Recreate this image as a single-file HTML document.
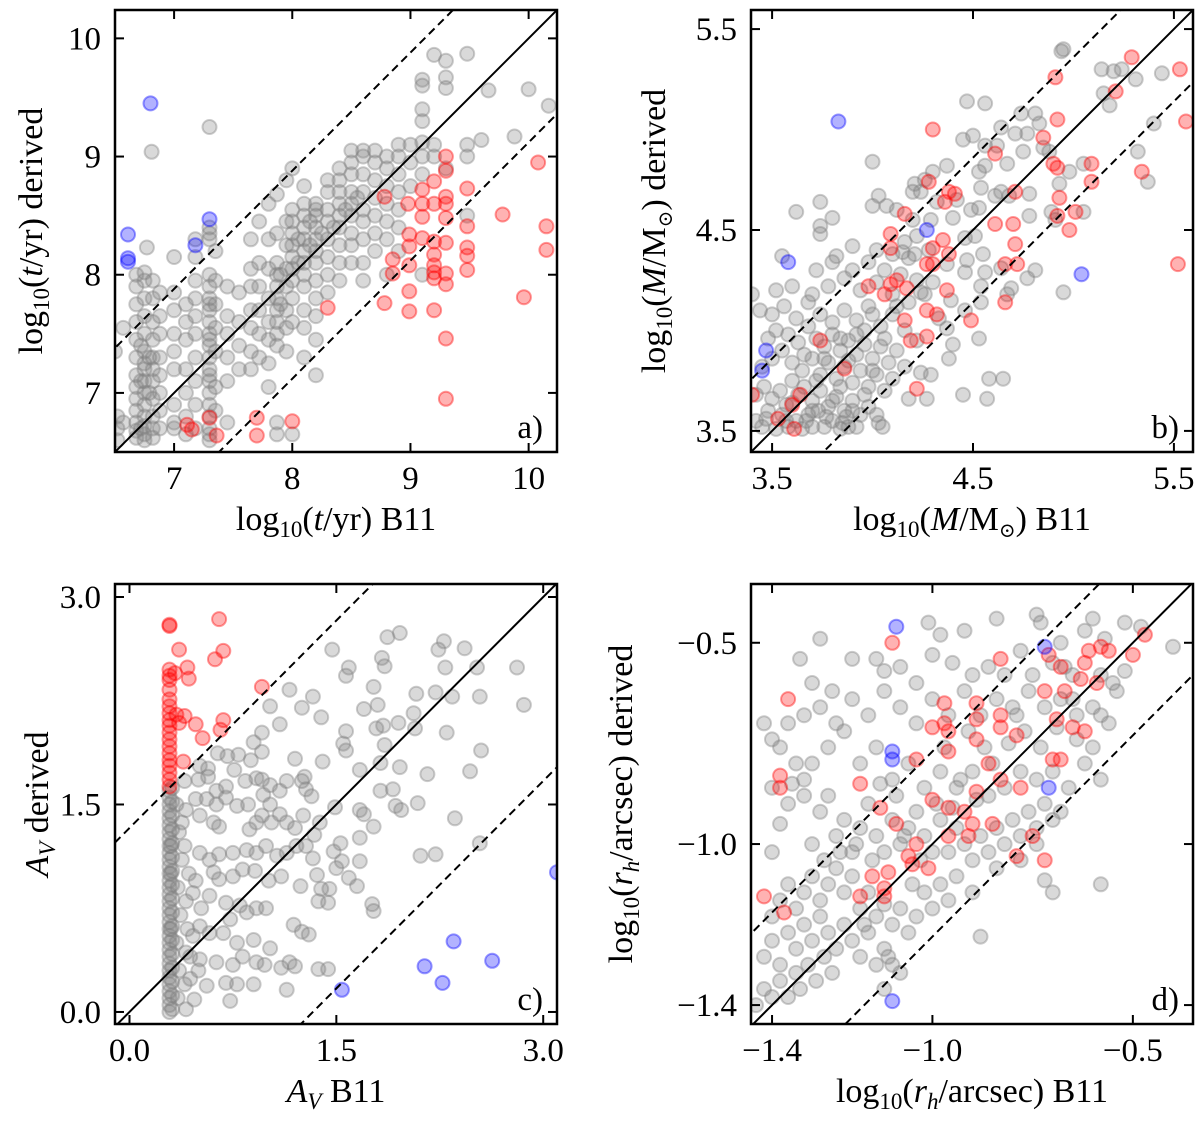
<!DOCTYPE html>
<html><head><meta charset="utf-8">
<style>
html,body{margin:0;padding:0;background:#fff;width:1200px;height:1126px;overflow:hidden;}
svg{display:block;}
text{font-family:"Liberation Serif","DejaVu Serif",serif;fill:#000;}
</style></head>
<body>
<svg id="fig" width="1200" height="1126" viewBox="0 0 1200 1126" xmlns="http://www.w3.org/2000/svg"></svg>
<script>
// ---------- Panel a: age ----------
const ticksA = [7, 8, 9, 10];
const grayA = [[6.52,6.7],[6.52,6.8],[6.52,6.6],[6.5,7.35],[6.57,6.75],[6.57,7.55],
[6.68,6.62],[6.68,6.68],[6.68,6.75],[6.68,6.85],[6.68,6.95],[6.68,7.05],[6.68,7.15],[6.68,7.3],[6.68,7.45],[6.68,7.6],[6.68,7.75],[6.68,7.9],[6.68,8.0],
[6.75,6.6],[6.75,6.65],[6.75,6.72],[6.75,6.8],[6.75,6.9],[6.75,7.0],[6.75,7.1],[6.75,7.2],[6.75,7.25],[6.75,7.35],[6.75,7.5],[6.75,7.65],[6.75,7.8],[6.75,7.95],[6.75,8.02],
[6.82,6.62],[6.82,6.7],[6.82,6.8],[6.82,6.95],[6.82,7.1],[6.82,7.2],[6.82,7.3],[6.82,7.45],[6.82,7.6],[6.82,7.8],[6.82,7.95],
[6.88,6.7],[6.88,6.85],[6.88,7.0],[6.88,7.15],[6.88,7.3],[6.88,7.5],[6.88,7.65],[6.88,7.85],
[6.77,8.23],[6.81,9.04],
[7.0,6.7],[7.0,6.75],[7.0,6.9],[7.0,7.2],[7.0,7.35],[7.0,7.5],[7.0,7.7],[7.0,7.85],[7.0,8.15],
[7.1,6.65],[7.1,6.8],[7.1,7.0],[7.1,7.2],[7.1,7.45],[7.1,7.6],[7.1,7.75],
[7.18,6.7],[7.18,6.9],[7.18,7.1],[7.18,7.3],[7.18,7.5],[7.18,7.65],[7.18,7.8],[7.18,7.95],[7.18,8.15],[7.18,8.3],
[7.3,6.6],[7.3,6.65],[7.3,6.7],[7.3,6.8],[7.3,6.9],[7.3,7.0],[7.3,7.1],[7.3,7.2],[7.3,7.3],[7.3,7.4],[7.3,7.5],[7.3,7.6],[7.3,7.7],[7.3,7.8],[7.3,7.9],[7.3,8.0],[7.3,8.3],[7.3,8.35],[7.3,8.4],[7.3,9.25],
[7.35,6.85],[7.35,7.05],[7.35,7.35],[7.35,7.55],[7.35,7.75],[7.35,7.95],[7.35,8.2],
[7.45,6.75],[7.45,7.1],[7.45,7.3],[7.45,7.5],[7.45,7.65],[7.45,7.9],
[7.55,7.2],[7.55,7.4],[7.55,7.6],[7.55,7.85],
[7.65,7.2],[7.65,7.35],[7.65,7.55],[7.65,7.7],[7.65,7.9],[7.65,8.05],[7.65,8.3],
[7.72,7.3],[7.72,7.5],[7.72,7.7],[7.72,7.9],[7.72,8.1],[7.72,8.45],
[7.8,7.05],[7.8,7.25],[7.8,7.45],[7.8,7.6],[7.8,7.8],[7.8,8.05],[7.8,8.3],[7.8,8.6],
[7.87,6.75],[7.87,6.65],[7.87,7.4],[7.87,7.5],[7.87,7.6],[7.87,7.7],[7.87,7.8],[7.87,7.9],[7.87,8.0],[7.87,8.1],[7.87,8.35],[7.87,8.68],
[7.95,7.35],[7.95,7.55],[7.95,7.7],[7.95,7.9],[7.95,8.05],[7.95,8.25],[7.95,8.45],[7.95,8.8],
[8.0,6.65],[8.0,7.6],[8.0,7.8],[8.0,7.95],[8.0,8.05],[8.0,8.15],[8.0,8.25],[8.0,8.35],[8.0,8.45],[8.0,8.55],[8.0,8.9],
[8.1,7.3],[8.1,7.55],[8.1,7.7],[8.1,7.9],[8.1,8.0],[8.1,8.1],[8.1,8.2],[8.1,8.3],[8.1,8.4],[8.1,8.5],[8.1,8.6],[8.1,8.75],
[8.2,7.15],[8.2,7.45],[8.2,7.65],[8.2,7.8],[8.2,7.95],[8.2,8.1],[8.2,8.2],[8.2,8.3],[8.2,8.4],[8.2,8.5],[8.2,8.55],[8.2,8.6],
[8.3,7.85],[8.3,8.0],[8.3,8.15],[8.3,8.3],[8.3,8.45],[8.3,8.55],[8.3,8.7],[8.3,8.8],
[8.4,7.95],[8.4,8.1],[8.4,8.25],[8.4,8.4],[8.4,8.5],[8.4,8.6],[8.4,8.7],[8.4,8.8],[8.4,8.9],
[8.5,8.1],[8.5,8.25],[8.5,8.35],[8.5,8.5],[8.5,8.6],[8.5,8.7],[8.5,8.85],[8.5,8.95],[8.5,9.05],
[8.6,7.95],[8.6,8.1],[8.6,8.3],[8.6,8.45],[8.6,8.55],[8.6,8.7],[8.6,8.85],[8.6,9.0],[8.6,9.05],
[8.7,8.2],[8.7,8.35],[8.7,8.5],[8.7,8.65],[8.7,8.8],[8.7,8.95],[8.7,9.05],
[8.8,8.0],[8.8,8.3],[8.8,8.45],[8.8,8.6],[8.8,8.75],[8.8,8.9],[8.8,9.0],
[8.9,8.2],[8.9,8.4],[8.9,8.55],[8.9,8.7],[8.9,8.85],[8.9,9.0],[8.9,9.1],
[9.0,8.75],[9.0,8.95],[9.0,9.1],
[9.1,8.85],[9.1,9.0],[9.1,9.12],[9.1,9.3],[9.1,9.4],[9.1,9.6],[9.1,9.65],[9.1,8.0],
[9.2,9.0],[9.2,9.1],[9.2,9.86],[9.3,9.81],[9.3,9.67],[9.3,9.58],[9.3,8.9],
[9.48,9.87],[9.48,9.1],[9.48,9.0],[9.48,8.5],[9.66,9.56],[9.6,9.14],[9.88,9.17],[10.0,9.57],[10.17,9.43],
[6.72,7.1],[6.72,7.4],[6.72,6.7],[6.79,7.0],[6.79,7.3],[7.3,7.15],[7.3,7.45],[7.3,7.75],[8.05,8.1],[8.05,8.3],[8.15,8.25],[8.15,8.45],[8.25,8.35],[8.35,8.4],[8.45,8.55],[8.55,8.65],[7.9,7.75],[7.9,8.0]];
const redA = [[9.30,9.00],[10.08,8.95],[9.30,8.88],[9.20,8.79],[8.78,8.66],[9.10,8.72],[9.10,8.60],[9.20,8.60],[9.30,8.66],[9.30,8.60],[9.48,8.73],[8.98,8.60],[9.10,8.49],[9.78,8.51],[9.30,8.48],[9.48,8.41],[10.15,8.41],[8.99,8.34],[9.10,8.31],[9.20,8.28],[9.30,8.27],[9.48,8.23],[9.48,8.16],[10.15,8.21],[8.99,8.24],[9.20,8.17],[9.20,8.08],[9.20,8.02],[9.20,7.97],[8.85,8.13],[8.99,8.08],[8.85,8.01],[9.30,8.01],[9.30,7.92],[9.48,8.04],[9.96,7.81],[8.78,7.76],[8.99,7.86],[8.99,7.69],[9.20,7.70],[8.30,7.72],[9.30,7.46],[9.30,6.95],[7.11,6.73],[7.15,6.69],[7.30,6.79],[7.36,6.64],[7.70,6.79],[7.70,6.64],[8.00,6.76]];
const blueA = [[6.80,9.45],[7.30,8.47],[6.61,8.34],[6.61,8.14],[6.61,8.11],[7.18,8.25]];

// ---------- Panel b: mass ----------
const ticksB = [3.5, 4.5, 5.5];
const grayB = [[4.94,5.39],[4.95,5.40],[5.14,5.30],[5.20,5.29],[5.24,5.30],[5.31,5.25],[5.44,5.28],[5.15,5.18],[5.18,5.12],[5.40,5.03],[5.32,4.89],[5.37,4.74],[4.47,5.14],[4.56,5.13],[4.74,5.08],[4.81,5.08],[4.83,5.03],[4.71,4.98],[4.77,4.98],[4.64,5.01],[4.45,4.95],[4.50,4.97],[4.56,4.92],[4.62,4.92],[4.75,4.89],[4.85,4.91],[4.88,4.89],[4.98,4.79],[5.05,4.83],[4.93,4.73],[4.0,4.84],[4.37,4.82],[4.30,4.79],[4.53,4.79],[4.56,4.82],[4.67,4.83],[4.26,4.75],[4.21,4.73],[4.54,4.71],[4.61,4.67],[4.64,4.69],[4.68,4.67],[4.78,4.68],[4.89,4.59],[4.91,4.55],[5.05,4.59],[4.78,4.57],[4.03,4.67],[4.07,4.62],[4.0,4.62],[3.74,4.64],[3.62,4.59],[3.80,4.56],[3.74,4.52],[3.74,4.48],[3.90,4.42],[3.82,4.37],[3.55,4.37],[4.12,4.60],[4.20,4.69],[4.24,4.69],[4.32,4.64],[4.42,4.65],[4.49,4.60],[4.53,4.61],[4.40,4.56],[4.29,4.55],[4.20,4.55],[4.22,4.47],[4.16,4.44],[4.15,4.39],[4.21,4.38],[4.28,4.40],[4.46,4.46],[4.51,4.47],[4.47,4.35],[4.55,4.38],[4.37,4.33],[4.46,4.29],[4.56,4.29],[4.54,4.22],[4.64,4.31],[4.77,4.26],[4.81,4.30],[4.69,4.21],[4.67,4.18],[4.95,4.19],[4.30,4.24],[4.24,4.19],[4.39,4.15],[4.46,4.10],[4.54,4.14],[4.37,4.01],[4.33,4.06],[4.40,3.93],[4.38,3.86],[4.53,3.96],[4.58,3.76],[4.65,3.76],[4.45,3.68],[4.57,3.66],[4.27,3.66],[4.29,3.78],[4.24,3.79],[4.18,3.66],[4.05,3.52],[4.03,3.54],[3.85,3.54],[3.88,3.52],
[3.42,3.55],[3.45,3.52],[3.48,3.60],[3.52,3.51],[3.55,3.58],[3.58,3.52],[3.62,3.55],[3.65,3.51],[3.68,3.58],[3.70,3.52],[3.73,3.60],[3.76,3.52],[3.80,3.55],[3.84,3.51],[3.92,3.52],[3.42,3.68],[3.46,3.72],[3.50,3.66],[3.54,3.70],[3.57,3.63],[3.60,3.75],[3.63,3.68],[3.66,3.72],[3.70,3.65],[3.74,3.70],[3.78,3.62],[3.82,3.67],[3.86,3.60],[3.90,3.65],[3.94,3.58],[3.98,3.62],[4.02,3.58],[3.45,3.82],[3.50,3.86],[3.55,3.90],[3.60,3.84],[3.65,3.80],[3.70,3.86],[3.74,3.78],[3.78,3.84],[3.82,3.76],[3.86,3.82],[3.90,3.74],[3.94,3.80],[3.98,3.72],[4.02,3.78],[4.06,3.70],[4.10,3.76],[3.48,3.96],[3.52,4.00],[3.58,3.98],[3.63,3.94],[3.68,4.02],[3.72,3.96],[3.76,3.92],[3.80,3.98],[3.84,3.90],[3.88,3.95],[3.92,3.88],[3.96,3.93],[4.00,3.86],[4.04,3.92],[4.08,3.84],[4.12,3.90],[4.16,3.82],[3.44,4.10],[3.50,4.08],[3.56,4.12],[3.62,4.06],[3.68,4.14],[3.74,4.08],[3.80,4.04],[3.86,4.10],[3.92,4.05],[3.98,4.12],[4.04,4.02],[4.10,4.08],[4.16,4.00],[4.22,3.95],[3.40,4.18],[3.52,4.20],[3.60,4.22],[3.70,4.18],[3.78,4.22],[3.86,4.26],[3.94,4.20],[4.02,4.24],[4.10,4.18],[4.18,4.14],[3.90,4.30],[3.98,4.34],[4.06,4.30],[4.14,4.28],[4.22,4.25],[4.26,4.18],[3.72,4.30],[3.80,4.34],[4.02,4.40],[4.10,4.38],[4.18,4.36],
[3.47,3.56],[3.57,3.55],[3.67,3.55],[3.77,3.57],[3.87,3.57],[3.60,3.64],[3.70,3.60],[3.80,3.65],[3.90,3.60],[3.72,3.75],[3.84,3.72],[3.96,3.68],[3.88,3.85],[4.00,3.80],[3.96,4.00],[4.06,3.96],[4.00,4.08],[4.12,4.12],[3.92,3.98],[3.84,3.96],[3.66,3.88],[3.76,3.86]];
const redB = [[5.29,5.36],[5.53,5.30],[4.91,5.26],[5.21,5.19],[4.92,5.05],[5.56,5.04],[4.30,5.0],[4.85,4.96],[4.61,4.88],[4.90,4.83],[4.92,4.81],[5.09,4.83],[5.34,4.79],[5.09,4.74],[4.28,4.74],[4.38,4.69],[4.41,4.68],[4.36,4.64],[4.71,4.69],[4.93,4.66],[5.01,4.59],[4.16,4.58],[4.92,4.57],[4.61,4.53],[4.70,4.53],[4.98,4.50],[4.09,4.48],[4.35,4.45],[4.30,4.41],[4.09,4.41],[4.71,4.43],[4.38,4.38],[5.52,4.33],[4.27,4.33],[4.30,4.33],[4.66,4.33],[4.72,4.33],[4.12,4.25],[4.09,4.23],[3.98,4.22],[4.06,4.18],[4.17,4.21],[4.37,4.20],[4.66,4.14],[4.27,4.10],[4.32,4.08],[4.16,4.05],[4.49,4.05],[4.19,3.95],[4.27,3.97],[3.74,3.95],[3.86,3.81],[4.22,3.71],[3.40,3.68],[3.64,3.68],[3.60,3.63],[3.53,3.56],[3.61,3.51]];
const blueB = [[3.83,5.04],[4.27,4.50],[3.58,4.34],[5.04,4.28],[3.47,3.90],[3.45,3.80]];

// ---------- Panel c: extinction ----------
const ticksC = [0.0, 1.5, 3.0];
const grayC = [[0.29,0.0],[0.29,0.05],[0.29,0.1],[0.29,0.15],[0.29,0.2],[0.29,0.25],[0.29,0.3],[0.29,0.35],[0.29,0.4],[0.29,0.45],[0.29,0.5],[0.29,0.55],[0.29,0.6],[0.29,0.65],[0.29,0.7],[0.29,0.75],[0.29,0.8],[0.29,0.85],[0.29,0.9],[0.29,0.95],[0.29,1.0],[0.29,1.05],[0.29,1.1],[0.29,1.15],[0.29,1.2],[0.29,1.25],[0.29,1.3],[0.29,1.35],[0.29,1.4],[0.29,1.45],[0.29,1.5],[0.29,1.55],[0.29,1.6],
[0.31,0.02],[0.31,0.12],[0.31,0.22],[0.31,0.32],[0.31,0.42],[0.31,0.52],[0.31,0.62],[0.31,0.72],[0.31,0.82],[0.31,0.92],[0.31,1.02],[0.31,1.12],[0.31,1.22],[0.31,1.32],[0.31,1.42],[0.31,1.52],[0.31,1.62],[0.30,1.2],[0.30,0.6],[0.30,1.0],
[0.35,0.1],[0.36,0.3],[0.34,0.5],[0.37,0.7],[0.35,0.9],[0.38,1.1],[0.36,1.3],[0.34,1.5],[0.40,0.2],[0.42,0.6],[0.41,0.8],[0.43,1.0],[0.40,1.2],[0.44,0.4],[0.46,0.55],[0.48,0.95],[0.5,0.3],[0.52,0.75],
[1.47,2.62],[1.87,2.71],[1.96,2.74],[2.28,2.68],[2.24,2.62],[2.43,2.63],[1.83,2.56],[1.85,2.50],[1.59,2.49],[1.57,2.43],[2.29,2.49],[2.52,2.49],[2.81,2.49],[1.77,2.35],[1.16,2.33],[1.33,2.28],[2.08,2.30],[2.22,2.31],[2.34,2.28],[2.54,2.28],[2.86,2.22],[1.02,2.21],[1.25,2.20],[1.70,2.19],[1.80,2.22],[1.39,2.13],[2.06,2.16],[1.09,2.08],[1.95,2.09],[1.79,2.05],[1.84,2.07],[1.57,2.03],[2.07,2.05],[2.30,2.02],[0.96,2.02],[0.90,1.95],[1.55,1.94],[1.57,1.89],[1.85,1.93],[2.55,1.89],[0.64,1.87],[0.71,1.85],[0.79,1.86],[0.88,1.82],[0.96,1.88],[1.20,1.83],[1.40,1.81],[1.82,1.80],[1.96,1.77],[1.67,1.75],[2.16,1.72],[2.47,1.74],[0.76,1.75],[0.51,1.78],[0.57,1.76],[0.50,1.68],[0.57,1.70],[0.40,1.67],[0.70,1.63],[0.63,1.60],[0.84,1.67],[0.92,1.69],[0.96,1.68],[1.02,1.64],[1.14,1.67],[1.09,1.60],[1.27,1.70],[1.25,1.67],[1.28,1.61],[1.32,1.56],[1.82,1.60],[1.91,1.61],[1.93,1.49],[1.97,1.46],[2.09,1.51],[0.48,1.54],[0.56,1.54],[0.63,1.50],[0.70,1.55],[0.78,1.49],[0.86,1.50],[0.97,1.57],[1.02,1.50],[0.41,1.46],[0.38,1.37],[0.51,1.42],[0.61,1.37],[0.65,1.34],[0.87,1.32],[0.92,1.37],[0.96,1.42],[1.03,1.37],[1.09,1.43],[1.14,1.37],[1.20,1.33],[1.26,1.42],[1.34,1.28],[1.38,1.37],[1.49,1.48],[1.67,1.46],[1.70,1.43],[1.77,1.34],[1.67,1.26],[2.36,1.40],[2.54,1.22],[2.11,1.13],[2.22,1.14],[1.28,1.20],[1.33,1.11],[1.48,1.16],[1.53,1.22],[1.54,1.09],[1.67,1.09],[0.51,1.15],[0.58,1.10],[0.65,1.14],[0.75,1.15],[0.85,1.17],[0.92,1.15],[0.99,1.20],[1.07,1.13],[1.14,1.15],[1.21,1.20],[0.61,1.01],[0.65,0.96],[0.75,0.98],[0.82,1.03],[0.91,1.02],[1.01,0.95],[1.10,0.98],[1.24,0.91],[1.36,0.99],[1.39,0.89],[1.45,0.89],[1.50,1.04],[1.59,0.97],[1.65,0.91],[1.37,0.80],[1.44,0.79],[1.76,0.78],[1.77,0.73],[0.46,0.86],[0.58,0.84],[0.70,0.79],[0.80,0.77],[0.92,0.75],[0.99,0.75],[0.85,0.72],[0.73,0.67],[1.19,0.63],[1.25,0.58],[1.30,0.56],[0.51,0.62],[0.58,0.57],[0.68,0.57],[0.78,0.50],[0.90,0.52],[1.02,0.46],[0.41,0.43],[0.51,0.38],[0.63,0.36],[0.75,0.34],[0.82,0.40],[0.92,0.36],[0.98,0.34],[1.10,0.32],[1.16,0.36],[1.20,0.33],[1.37,0.31],[1.44,0.31],[0.44,0.24],[0.56,0.19],[0.70,0.21],[0.78,0.20],[0.90,0.20],[1.14,0.16],[0.73,0.08],[0.47,0.09],[0.41,0.02]];
const redC = [[0.29,2.80],[0.29,2.79],[0.29,2.475],[0.29,2.43],[0.29,2.40],[0.29,2.33],[0.29,2.26],[0.29,2.21],[0.29,2.16],[0.29,2.11],[0.29,2.07],[0.29,2.02],[0.29,1.97],[0.29,1.92],[0.29,1.87],[0.29,1.82],[0.29,1.78],[0.29,1.73],[0.29,1.68],[0.29,1.63],[0.65,2.84],[0.36,2.62],[0.68,2.61],[0.62,2.55],[0.42,2.49],[0.43,2.41],[0.33,2.45],[0.36,2.09],[0.48,2.08],[0.68,2.11],[0.66,2.04],[0.53,1.98],[0.96,2.35],[0.39,1.81],[0.34,2.15],[0.40,2.14]];
const blueC = [[1.54,0.16],[2.14,0.33],[2.27,0.21],[2.35,0.51],[2.63,0.37],[3.10,1.01]];

// ---------- Panel d: radius ----------
const ticksD = [-1.4, -1.0, -0.5];
const grayD = [[-1.44,-1.40],[-1.42,-1.36],[-1.40,-1.38],[-1.38,-1.34],[-1.36,-1.38],[-1.34,-1.32],[-1.33,-1.36],[-1.31,-1.30],[-1.29,-1.34],[-1.27,-1.28],[-1.25,-1.32],[-1.42,-1.28],[-1.40,-1.24],[-1.38,-1.30],[-1.36,-1.22],[-1.34,-1.26],[-1.32,-1.20],[-1.30,-1.24],[-1.28,-1.18],[-1.26,-1.22],[-1.24,-1.26],[-1.22,-1.20],[-1.20,-1.24],[-1.18,-1.28],[-1.16,-1.22],[-1.14,-1.30],[-1.12,-1.26],[-1.11,-1.28],[-1.10,-1.30],[-1.08,-1.32],[-1.12,-1.36],[-1.40,-1.18],[-1.38,-1.14],[-1.36,-1.10],[-1.34,-1.16],[-1.32,-1.12],[-1.30,-1.08],[-1.28,-1.14],[-1.26,-1.10],[-1.24,-1.06],[-1.22,-1.12],[-1.20,-1.08],[-1.18,-1.16],[-1.16,-1.12],[-1.14,-1.18],[-1.12,-1.15],[-1.10,-1.20],[-1.08,-1.16],[-1.06,-1.22],[-1.04,-1.18],[-1.02,-1.12],[-1.00,-1.16],[-0.98,-1.10],[-0.96,-1.14],[-0.94,-1.08],[-0.90,-1.12],[-0.84,-1.06],[-0.78,-1.04],[-0.74,-1.00],[-0.72,-1.09],[-0.70,-1.12],[-0.58,-1.10],[-0.88,-1.23],
[-1.40,-1.02],[-1.38,-0.95],[-1.36,-0.90],[-1.34,-0.80],[-1.32,-0.84],[-1.30,-1.00],[-1.28,-0.92],[-1.26,-0.88],[-1.24,-0.98],[-1.22,-0.94],[-1.20,-1.02],[-1.18,-0.96],[-1.16,-0.90],[-1.14,-0.98],[-1.12,-1.02],[-1.10,-0.94],[-1.08,-1.00],[-1.06,-0.96],[-1.04,-0.92],[-1.02,-0.98],[-1.00,-1.02],[-0.98,-0.94],[-0.96,-1.02],[-0.94,-0.96],[-0.92,-1.00],[-0.90,-1.04],[-0.88,-0.98],[-0.86,-1.02],[-0.84,-0.96],[-0.82,-1.00],[-0.80,-0.94],[-0.78,-0.98],[-0.76,-0.92],[-0.74,-0.96],[-0.72,-0.90],[-0.70,-0.94],[-0.68,-0.92],
[-1.30,-0.80],[-1.26,-0.76],[-1.22,-0.72],[-1.18,-0.80],[-1.14,-0.76],[-1.10,-0.84],[-1.06,-0.80],[-1.02,-0.86],[-0.98,-0.82],[-0.94,-0.86],[-0.90,-0.82],[-0.86,-0.88],[-0.82,-0.86],[-0.78,-0.82],[-0.74,-0.84],[-0.70,-0.82],[-0.66,-0.86],[-0.62,-0.80],[-0.58,-0.84],[-0.60,-0.76],[-0.64,-0.74],
[-1.36,-0.70],[-1.32,-0.68],[-1.28,-0.66],[-1.24,-0.70],[-1.20,-0.64],[-1.16,-0.68],[-1.12,-0.62],[-1.08,-0.66],[-1.04,-0.70],[-1.00,-0.64],[-0.96,-0.68],[-0.92,-0.62],[-0.88,-0.68],[-0.84,-0.64],[-0.80,-0.66],[-0.76,-0.62],[-0.72,-0.66],[-0.68,-0.64],[-0.64,-0.68],[-0.60,-0.66],[-0.56,-0.70],[-0.54,-0.62],[-0.58,-0.58],
[-1.28,-0.49],[-1.20,-0.54],[-1.14,-0.54],[-1.12,-0.57],[-1.08,-0.56],[-1.04,-0.60],[-1.01,-0.45],[-1.00,-0.53],[-0.98,-0.48],[-0.95,-0.55],[-0.92,-0.47],[-0.90,-0.58],[-0.86,-0.56],[-0.84,-0.44],[-0.82,-0.58],[-0.78,-0.52],[-0.74,-0.43],[-0.73,-0.45],[-0.70,-0.55],[-0.68,-0.50],[-0.65,-0.58],[-0.62,-0.47],[-0.60,-0.44],[-0.57,-0.49],[-0.52,-0.45],[-0.48,-0.46],[-0.40,-0.51],[-0.52,-0.57],[-0.55,-0.60],[-0.58,-0.68],
[-1.33,-0.54],[-1.42,-0.70],[-1.40,-0.74],[-1.38,-0.76],[-1.35,-0.85],[-1.32,-0.88],[-1.40,-0.86],[-1.30,-0.60],[-1.25,-0.62],
[-1.07,-0.98],[-1.03,-1.04],[-0.99,-0.90],[-0.95,-0.91],[-0.93,-0.84],[-0.89,-0.89],[-0.85,-0.80],[-0.81,-0.75],[-0.77,-0.72],[-0.73,-0.76],[-0.69,-0.71],[-0.65,-0.64],[-1.15,-1.04],[-1.19,-1.00],[-1.23,-1.02],[-1.09,-0.88],[-1.13,-0.85],[-0.97,-0.76],[-0.91,-0.72],[-0.87,-0.76],[-0.79,-0.68],[-0.75,-0.58],[-0.67,-0.56],[-1.27,-1.04],[-1.17,-1.20],[-1.05,-1.10]];
const redD = [[-1.10,-0.50],[-1.36,-0.64],[-1.38,-0.83],[-1.38,-0.86],[-1.42,-1.13],[-1.37,-1.17],[-1.18,-0.85],[-1.13,-0.91],[-1.09,-0.95],[-1.04,-0.79],[-1.00,-0.71],[-0.97,-0.70],[-0.96,-0.72],[-0.97,-0.65],[-0.96,-0.77],[-0.89,-0.65],[-0.89,-0.69],[-0.89,-0.74],[-0.83,-0.54],[-0.83,-0.68],[-0.83,-0.71],[-0.79,-0.73],[-0.86,-0.80],[-0.83,-0.84],[-0.89,-0.87],[-1.0,-0.89],[-0.96,-0.91],[-0.92,-0.92],[-0.90,-0.95],[-0.91,-0.98],[-0.96,-0.98],[-0.85,-0.95],[-0.78,-0.86],[-1.04,-1.00],[-1.06,-1.03],[-1.05,-1.05],[-1.01,-1.06],[-1.11,-1.07],[-1.15,-1.08],[-1.12,-1.11],[-1.12,-1.13],[-1.18,-1.13],[-0.79,-1.03],[-0.75,-0.98],[-0.72,-1.04],[-0.71,-0.53],[-0.68,-0.56],[-0.72,-0.62],[-0.67,-0.62],[-0.69,-0.69],[-0.65,-0.71],[-0.62,-0.72],[-0.70,-0.79],[-0.68,-0.79],[-0.63,-0.59],[-0.59,-0.60],[-0.62,-0.55],[-0.61,-0.52],[-0.58,-0.51],[-0.56,-0.52],[-0.50,-0.53],[-0.47,-0.48]];
const blueD = [[-1.09,-0.46],[-1.10,-0.77],[-1.10,-0.79],[-0.72,-0.51],[-0.71,-0.86],[-1.10,-1.39]];

const NS = 'http://www.w3.org/2000/svg';
const svg = document.getElementById('fig');
function mk(tag, attrs, parent){
  const e = document.createElementNS(NS, tag);
  for (const k in attrs) e.setAttribute(k, attrs[k]);
  (parent||svg).appendChild(e);
  return e;
}
function panel(cfg){
  const g = mk('g', {});
  
  
  const sx = v => cfg.L + (v - cfg.x0) / (cfg.x1 - cfg.x0) * (cfg.R - cfg.L);
  const sy = v => cfg.B - (v - cfg.y0) / (cfg.y1 - cfg.y0) * (cfg.B - cfg.T);
  const clipId = 'clip' + cfg.id;
  const cp = mk('clipPath', {id: clipId}, g);
  mk('rect', {x: cfg.L, y: cfg.T, width: cfg.R - cfg.L, height: cfg.B - cfg.T}, cp);
  const pts = mk('g', {'clip-path': 'url(#' + clipId + ')'}, g);
  function series(arr, color, name){
    const sg = mk('g', {}, pts);
    
    
    arr.forEach(p => {
      const c = mk('circle', {cx: sx(p[0]).toFixed(1), cy: sy(p[1]).toFixed(1), r: 7, fill: color, 'fill-opacity': 0.3, stroke: color, 'stroke-opacity': 0.4, 'stroke-width': 2}, sg);
      
      
    });
  }
  series(cfg.gray, '#808080', 'gray-points');
  series(cfg.red, '#ff0000', 'red-points');
  series(cfg.blue, '#0000ff', 'blue-points');
  const lo = Math.min(cfg.x0, cfg.y0) - 1, hi = Math.max(cfg.x1, cfg.y1) + 1;
  const l1 = mk('line', {x1: sx(lo), y1: sy(lo), x2: sx(hi), y2: sy(hi), stroke: '#000', 'stroke-width': 2}, pts);
  
  
  [cfg.off, -cfg.off].forEach(o => {
    const l = mk('line', {x1: sx(lo), y1: sy(lo + o), x2: sx(hi), y2: sy(hi + o), stroke: '#000', 'stroke-width': 2, 'stroke-dasharray': '8,5'}, pts);
    
    
  });
  const fr = mk('rect', {x: cfg.L, y: cfg.T, width: cfg.R - cfg.L, height: cfg.B - cfg.T, fill: 'none', stroke: '#000', 'stroke-width': 2.5}, g);
  
  
  cfg.ticks.forEach(t => {
    const x = sx(t), y = sy(t);
    mk('line', {x1: x, y1: cfg.B, x2: x, y2: cfg.B - 9, stroke: '#000', 'stroke-width': 2}, g);
    mk('line', {x1: x, y1: cfg.T, x2: x, y2: cfg.T + 9, stroke: '#000', 'stroke-width': 2}, g);
    mk('line', {x1: cfg.L, y1: y, x2: cfg.L + 9, y2: y, stroke: '#000', 'stroke-width': 2}, g);
    mk('line', {x1: cfg.R, y1: y, x2: cfg.R - 9, y2: y, stroke: '#000', 'stroke-width': 2}, g);
    const lab = cfg.fmt(t);
    const tx = mk('text', {x: x, y: cfg.B + 37, 'text-anchor': 'middle', 'font-size': 33}, g);
    tx.textContent = lab;
    
    
    const ty = mk('text', {x: cfg.L - 14, y: y + 11, 'text-anchor': 'end', 'font-size': 33}, g);
    ty.textContent = lab;
    
    
  });
  const pl = mk('text', {x: cfg.R - 14, y: cfg.B - 14, 'text-anchor': 'end', 'font-size': 33}, g);
  pl.textContent = cfg.id + ')';
  
  
  const xl = mk('text', {x: (cfg.L + cfg.R) / 2, y: cfg.B + 78, 'text-anchor': 'middle', 'font-size': 34}, g);
  xl.innerHTML = cfg.xlab;
  
  
  const cy = (cfg.T + cfg.B) / 2;
  const yl = mk('text', {x: 0, y: 0, 'text-anchor': 'middle', 'font-size': 34, transform: 'translate(' + cfg.ylx + ',' + cy + ') rotate(-90)'}, g);
  yl.innerHTML = cfg.ylab;
  
  
}
const sub = s => '<tspan dy="7" font-size="23">' + s + '</tspan><tspan dy="-7">';
const logT = 'log' + sub('10') + '(<tspan font-style="italic">t</tspan>/yr)</tspan>';
const logM = 'log' + sub('10') + '(<tspan font-style="italic">M</tspan>/M<tspan dy="7" font-size="20">⊙</tspan><tspan dy="-7">)</tspan></tspan>';
const logR = 'log' + sub('10') + '(<tspan font-style="italic">r</tspan><tspan dy="7" font-size="23" font-style="italic">h</tspan><tspan dy="-7">/arcsec)</tspan></tspan>';
const AV = '<tspan font-style="italic">A</tspan><tspan dy="7" font-size="23" font-style="italic">V</tspan><tspan dy="-7">';

panel({id:'a', L:115, R:557, T:10, B:452, x0:6.5, x1:10.24, y0:6.5, y1:10.24, off:0.88, ticks:ticksA, fmt:v=>String(v), gray:grayA, red:redA, blue:blueA, xlab:logT+' B11', ylab:logT+' derived', ylx:42});
panel({id:'b', L:751, R:1193, T:10, B:452, x0:3.395, x1:5.595, y0:3.395, y1:5.595, off:0.36, ticks:ticksB, fmt:v=>v.toFixed(1), gray:grayB, red:redB, blue:blueB, xlab:logM+' B11', ylab:logM+' derived', ylx:665});
panel({id:'c', L:115, R:557, T:584, B:1024, x0:-0.105, x1:3.1, y0:-0.087, y1:3.094, off:1.33, ticks:ticksC, fmt:v=>v.toFixed(1), gray:grayC, red:redC, blue:blueC, xlab:AV+' B11</tspan>', ylab:AV+' derived</tspan>', ylx:48});
panel({id:'d', L:751, R:1193, T:584, B:1024, x0:-1.4525, x1:-0.35, y0:-1.447, y1:-0.354, off:0.23, ticks:ticksD, fmt:v=>v.toFixed(1).replace('-','\u2212'), gray:grayD, red:redD, blue:blueD, xlab:logR+' B11', ylab:logR+' derived', ylx:632});
</script>
</body></html>
